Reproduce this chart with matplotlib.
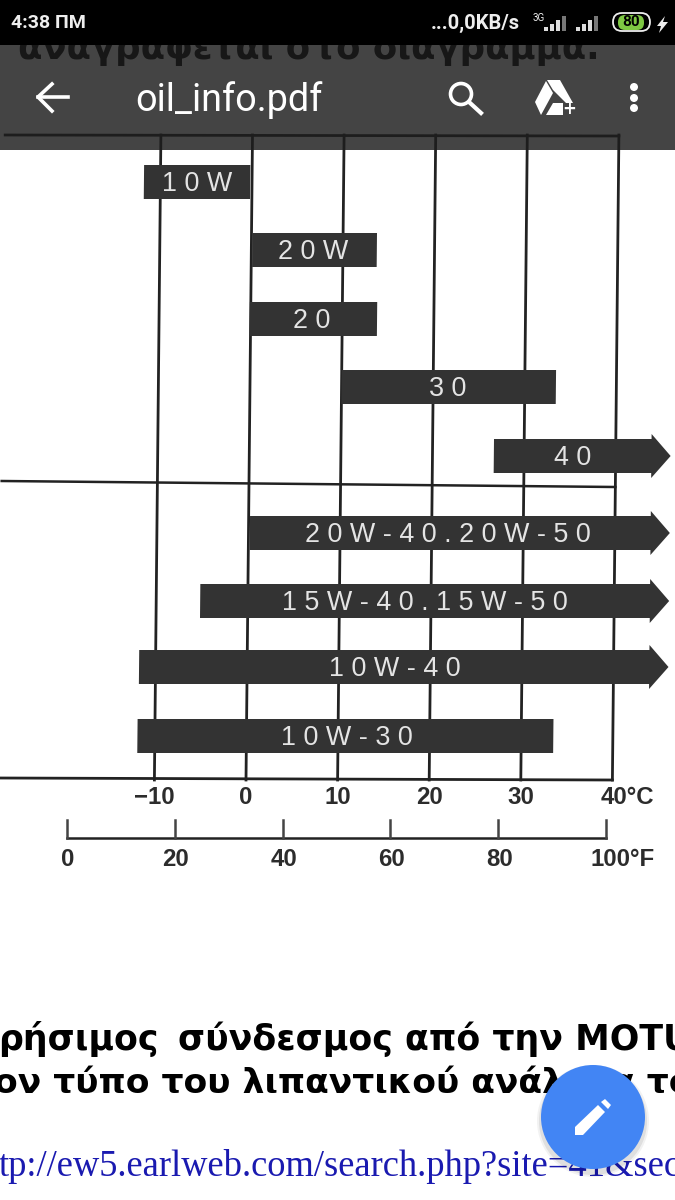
import matplotlib
matplotlib.use('Agg')
import matplotlib.pyplot as plt
from matplotlib.patches import Circle, FancyBboxPatch, Polygon, Rectangle
from matplotlib.transforms import Affine2D

# temperature ranges in deg C, None means it runs off the chart with an arrow
oil_names = ['1 0 W', '2 0 W', '2 0', '3 0', '4 0', '2 0 W - 4 0 . 2 0 W - 5 0',
             '1 5 W - 4 0 . 1 5 W - 5 0', '1 0 W - 4 0', '1 0 W - 3 0']
oil_low = [-11.8, 0.1, -0.1, 10.0, 26.7, 0.15, -5.2, -11.8, -11.9]
oil_high = [-0.2, 13.7, 13.8, 33.4, None, None, None, None, 33.5]
oil_label_at = [-6.0, 6.8, 6.7, 21.6, 35.3, 21.8, 19.3, 16.1, 11]

celsius_ticks = [-10, 0, 10, 20, 30, 40]
celsius_labels = ['−10', '0', '10', '20', '30', '40°C']
fahrenheit_ticks = [0, 20, 40, 60, 80, 100]
fahrenheit_labels = ['0', '20', '40', '60', '80', '100°F']

W, H = 675, 1200
row_y = [182, 250, 319, 387, 456, 533, 601, 667, 736]
BAR_H = 34
DARK = '#333333'
LINE = '#222222'
SCALE_TXT = '#2c2c2c'

fig = plt.figure(figsize=(W / 100, H / 100), dpi=100)

# page behind everything, pixel coordinates
ax = fig.add_axes([0, 0, 1, 1])
ax.set_xlim(0, W)
ax.set_ylim(H, 0)
ax.axis('off')

# chart axes: x in deg C, y still in pixels
PX_PER_C = 9.16
X0 = 246
tc = fig.add_axes([0, 0, 1, 1])
tc.set_xlim(-X0 / PX_PER_C, (W - X0) / PX_PER_C)
tc.set_ylim(H, 0)
tc.axis('off')
tc.patch.set_alpha(0)

# the scanned page leans a little
k = -0.0011
lean = Affine2D.from_values(1, 0, k, 1, -k * 780, 0) + tc.transData

TOP, BOTTOM = 135, 780
for t in celsius_ticks:
    tc.plot([t, t], [TOP, BOTTOM], color=LINE, lw=2, transform=lean, zorder=2)
tc.plot([-27, 40], [778, 780], color=LINE, lw=2, transform=lean, zorder=2)
tc.plot([-27, 40], [135, 136], color=LINE, lw=2, transform=lean, zorder=2)
tc.plot([-27, 40], [481, 487], color=LINE, lw=1.8, transform=lean, zorder=2)

ARROW_END = 43.9
ARROW_TIP = 46.0
for i in range(len(oil_names)):
    y = row_y[i]
    top = y - BAR_H / 2
    bot = y + BAR_H / 2
    if oil_high[i] is None:
        pts = [(oil_low[i], top), (ARROW_END, top), (ARROW_END, top - 5), (ARROW_TIP, y),
               (ARROW_END, bot + 5), (ARROW_END, bot), (oil_low[i], bot)]
    else:
        pts = [(oil_low[i], top), (oil_high[i], top), (oil_high[i], bot), (oil_low[i], bot)]
    tc.add_patch(Polygon(pts, closed=True, fc=DARK, ec='none', transform=lean, zorder=3))
    tc.text(oil_label_at[i], y + 2, oil_names[i], color='#e4e4e4', fontsize=19.4, ha='center', va='center',
            family='Liberation Sans', transform=lean, zorder=4)

# scales under the chart
for t, lab in zip(celsius_ticks, celsius_labels):
    off = 1.6 if lab.endswith('C') else 0
    tc.text(t + off, 798, lab, color=SCALE_TXT, fontsize=17.3, fontweight='bold', ha='center', va='center',
            family='Liberation Sans', zorder=4)

# deg F ruler, 0..100 runs from px 67 to 606
def f_to_px(f):
    return 67 + f * 5.39

ax.plot([f_to_px(0), f_to_px(100)], [838, 838], color=LINE, lw=1.8)
for f, lab in zip(fahrenheit_ticks, fahrenheit_labels):
    ax.plot([f_to_px(f), f_to_px(f)], [820, 838], color='#444444', lw=1.8)
    off = 16 if lab.endswith('F') else 0
    ax.text(f_to_px(f) + off + 1, 859, lab, color=SCALE_TXT, fontsize=17.3, fontweight='bold', ha='center',
            va='center', family='Liberation Sans')

# text of the page below the chart
ax.text(-2, 1039, 'ρήσιμος', fontsize=25, fontweight='bold', color='black',
        family='DejaVu Sans', ha='left', va='center')
ax.text(178, 1039, 'σύνδεσμος από την MOTU', fontsize=25, fontweight='bold', color='black',
        family='DejaVu Sans', ha='left', va='center')
ax.text(-6, 1083, 'ον τύπο του λιπαντικού ανάλογα το', fontsize=24.8, fontweight='bold', color='black',
        family='DejaVu Sans', ha='left', va='center')
ax.text(-1, 1166, 'tp://ew5.earlweb.com/search.php?site=41&sec', fontsize=26.3, color='#1a1ab0',
        family='Liberation Serif', ha='left', va='center')

# phone chrome on top
ax2 = fig.add_axes([0, 0, 1, 1])
ax2.set_xlim(0, W)
ax2.set_ylim(H, 0)
ax2.axis('off')
ax2.patch.set_alpha(0)

ax.text(18, 59, 'αναγράφεται στο διάγραμμα.', fontsize=25.6, fontweight='bold', color='black',
        family='DejaVu Sans', ha='left', va='baseline', zorder=1)
ax2.add_patch(Rectangle((0, 45), W, 105, fc='#1d1d1d', alpha=0.827, ec='none', zorder=1))
ax2.add_patch(Rectangle((0, 0), W, 45, fc='black', ec='none', zorder=2))

ax2.text(11, 23, '4:38 ΠΜ', color='#eeeeee', fontsize=14, fontweight='bold', family='Roboto', va='center', zorder=3)
ax2.text(431, 23, '...0,0KB/s', color='#eeeeee', fontsize=14.5, fontweight='bold', family='Roboto', va='center', zorder=3)
ax2.text(533, 18, '3G', color='#eeeeee', fontsize=7, family='Roboto', va='center', zorder=3)
for x0 in [544, 576]:
    for j, h in enumerate([4, 7, 11, 15]):
        ax2.add_patch(Rectangle((x0 + j * 6, 31 - h), 4, h, fc='#dddddd' if j < 3 else '#777777', ec='none', zorder=3))
ax2.add_patch(FancyBboxPatch((618, 15), 26, 15, boxstyle='round,pad=0,rounding_size=7', fc='#7ec843', ec='none', zorder=3))
ax2.add_patch(FancyBboxPatch((613, 13), 37, 18, boxstyle='round,pad=0,rounding_size=9', fc='none', ec='#eeeeee', lw=1.3, zorder=3))
ax2.text(631, 22, '80', color='black', fontsize=11, fontweight='bold', family='Roboto', ha='center', va='center', zorder=4)
ax2.add_patch(Polygon([(665, 16), (657, 26), (661, 26), (659, 33), (668, 22), (663, 22)], fc='#eeeeee', ec='none', zorder=3))

# app bar
ax2.plot([68, 38], [97, 97], color='white', lw=2.6, zorder=3)
ax2.plot([52, 38, 52], [84, 97, 111], color='white', lw=2.6, zorder=3)
ax2.text(135, 100, 'oil_info.pdf', color='white', fontsize=27.2, family='Roboto', va='center', zorder=3)
ax2.add_patch(Circle((461, 94), 10.5, fc='none', ec='white', lw=2.6, zorder=3))
ax2.plot([469, 481], [102, 113], color='white', lw=3, zorder=3)
ax2.add_patch(Polygon([(547, 80), (560, 80), (573, 103), (566, 103), (553, 90)], fc='white', ec='none', zorder=3))
ax2.add_patch(Polygon([(546, 81), (553, 93), (541, 115), (535, 102)], fc='white', ec='none', zorder=3))
ax2.add_patch(Polygon([(546, 115), (553, 103), (563, 103), (563, 115)], fc='white', ec='none', zorder=3))
ax2.text(569, 109, '+', color='white', fontsize=12, fontweight='bold', ha='center', va='center', zorder=3)
for cy in [87, 98, 108]:
    ax2.add_patch(Circle((634, cy), 4, fc='white', ec='none', zorder=3))

# floating button with pencil
for r, a in [(56, 0.05), (54, 0.08)]:
    ax2.add_patch(Circle((593, 1121), r, fc='black', alpha=a, ec='none', zorder=5))
ax2.add_patch(Circle((593, 1117), 52, fc='#4285f4', ec='none', zorder=6))
ax2.add_patch(Polygon([(575, 1127), (598, 1105), (605, 1112), (583, 1135), (575, 1135)], fc='white', ec='none', zorder=7))
ax2.add_patch(Polygon([(601, 1102), (605, 1099), (611, 1105), (608, 1109)], fc='white', ec='none', zorder=7))

fig.savefig('out.png', dpi=100, facecolor='white')
